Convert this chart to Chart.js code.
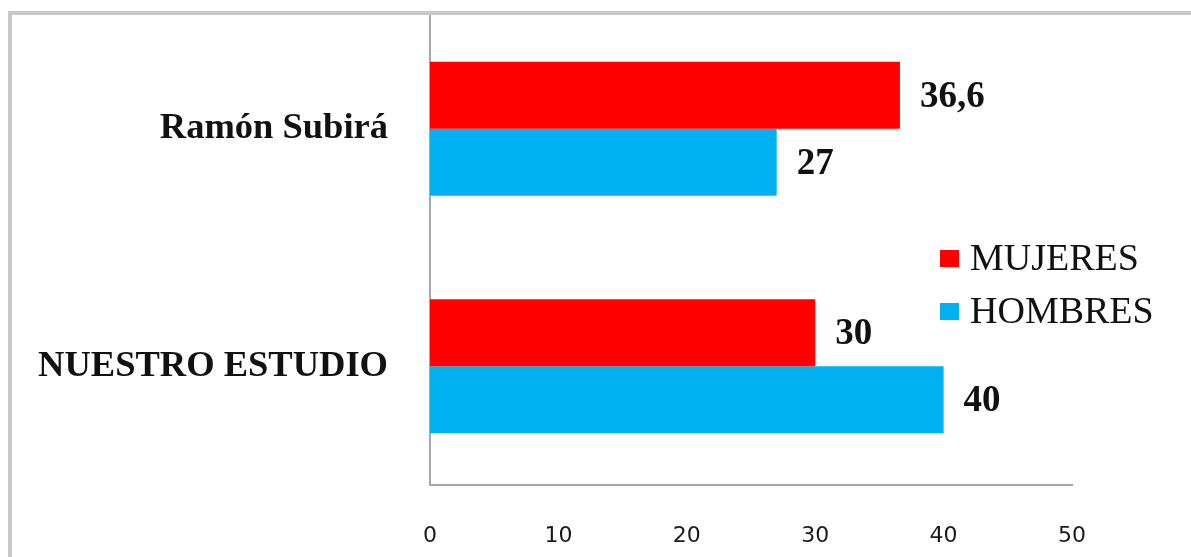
<!DOCTYPE html>
<html>
<head>
<meta charset="utf-8">
<style>
  html, body { margin:0; padding:0; background:#fff; }
  canvas { display:block; }
</style>
<script src="https://cdn.jsdelivr.net/npm/chart.js@4.4.1/dist/chart.umd.min.js"></script>
</head>
<body>
<canvas id="chart" width="1191" height="557"></canvas>
<script>
// data
const categories = ['Ramón Subirá', 'NUESTRO ESTUDIO'];
const mujeres = [36.6, 30];
const hombres = [27, 40];
const xTicks = [0, 10, 20, 30, 40, 50];

const RED = '#ff0000';
const BLUE = '#00b0f0';
const SERIF = '"Liberation Serif", "Times New Roman", serif';

// white background, then the grey frame drawn on top at the end
const framePlugin = {
  id: 'frame',
  beforeDraw(chart){
    const ctx = chart.ctx;
    ctx.save();
    ctx.fillStyle = '#fff';
    ctx.fillRect(0, 0, chart.width, chart.height);
    ctx.restore();
  },
  afterDraw(chart){
    const ctx = chart.ctx;
    ctx.save();
    ctx.fillStyle = '#fff';
    ctx.fillRect(0, 0, chart.width, 11);
    ctx.fillStyle = '#c8c8c8';
    ctx.fillRect(8, 11, chart.width, 4);
    ctx.fillRect(8, 11, 4, chart.height);
    ctx.restore();
  }
};

// value labels at the bar ends
const valueLabels = {
  id: 'valueLabels',
  afterDatasetsDraw(chart){
    const ctx = chart.ctx;
    ctx.save();
    ctx.font = 'bold 37px ' + SERIF;
    ctx.fillStyle = '#111';
    ctx.textAlign = 'left';
    ctx.textBaseline = 'middle';
    chart.data.datasets.forEach((ds, i) => {
      chart.getDatasetMeta(i).data.forEach((bar, j) => {
        ctx.fillText(String(ds.data[j]).replace('.', ','), bar.x + 20, bar.y + 2);
      });
    });
    ctx.restore();
  }
};

// legend inside the plot, right side
const sideLegend = {
  id: 'sideLegend',
  afterDraw(chart){
    const ctx = chart.ctx;
    ctx.save();
    ctx.font = '38px ' + SERIF;
    ctx.textAlign = 'left';
    ctx.textBaseline = 'middle';
    chart.data.datasets.forEach((ds, i) => {
      const y = 259 + i * 53;
      ctx.fillStyle = ds.backgroundColor;
      ctx.fillRect(940, y - 9, 19, 17);
      ctx.fillStyle = '#111';
      ctx.fillText(ds.label, 970, y + 1);
    });
    ctx.restore();
  }
};

new Chart(document.getElementById('chart').getContext('2d'), {
  type: 'bar',
  data: {
    labels: categories,
    datasets: [
      { label: 'MUJERES', data: mujeres, backgroundColor: RED },
      { label: 'HOMBRES', data: hombres, backgroundColor: BLUE }
    ]
  },
  options: {
    indexAxis: 'y',
    responsive: false,
    animation: false,
    devicePixelRatio: 1,
    layout: { padding: { top: 10, right: 119, left: 0, bottom: 0 } },
    datasets: { bar: { categoryPercentage: 0.565, barPercentage: 1 } },
    plugins: { legend: { display: false }, tooltip: { enabled: false } },
    scales: {
      x: {
        min: 0, max: 50,
        afterBuildTicks(s){ s.ticks = xTicks.map(v => ({ value: v })); },
        afterFit(s){ s.height = 72; s.paddingLeft = 0; s.paddingRight = 0; },
        grid: { display: false, drawTicks: false },
        border: { display: true, color: '#a8a8a8', width: 2 },
        ticks: { padding: 38, color: '#1a1a1a', font: { family: '"DejaVu Sans", sans-serif', size: 22 } }
      },
      y: {
        afterFit(s){ s.width = 430; s.paddingTop = 0; s.paddingBottom = 0; },
        grid: { display: false, drawTicks: false },
        border: { display: true, color: '#a8a8a8', width: 2 },
        ticks: { padding: 42, color: '#111', font: { family: SERIF, size: 36.5, weight: 'bold' } }
      }
    }
  },
  plugins: [framePlugin, valueLabels, sideLegend]
});
</script>
</body>
</html>
